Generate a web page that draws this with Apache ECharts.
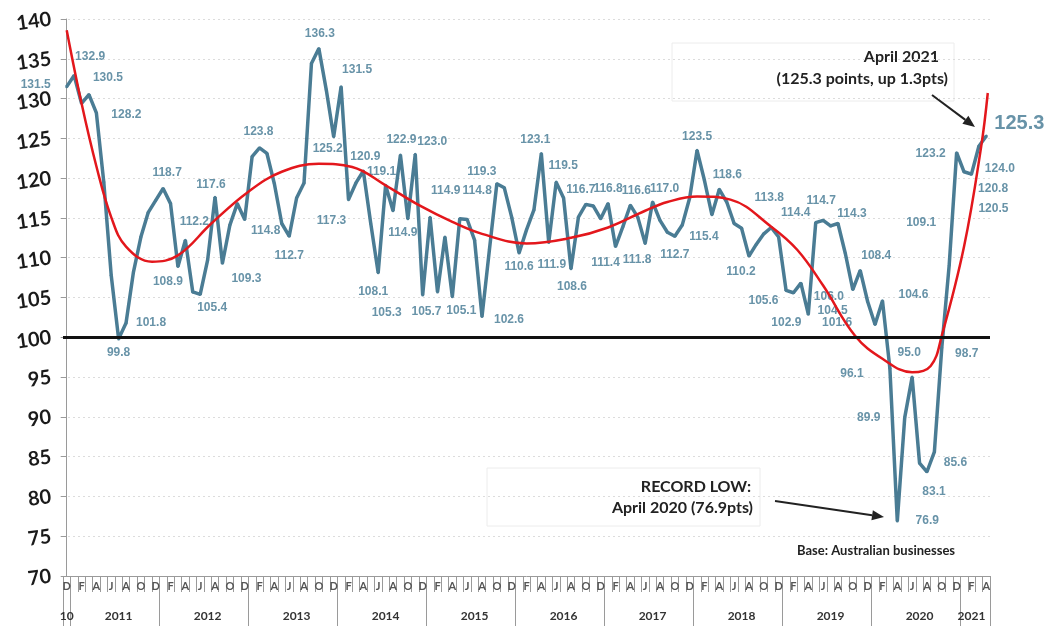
<!DOCTYPE html>
<html>
<head>
<meta charset="utf-8">
<script src="https://cdn.jsdelivr.net/npm/echarts@6/dist/echarts.min.js"></script>
<style>
  html, body { margin: 0; padding: 0; background: #fff; }
  #chart { width: 1054px; height: 626px; }
</style>
</head>
<body>
<div id="chart"></div>
<script>
// month letters shown under the axis, and the year row
const MONTH_LETTERS = ['J', 'F', 'M', 'A', 'M', 'J', 'J', 'A', 'S', 'O', 'N', 'D']
const YEAR_LABELS = { 2010: '10', 2011: '2011', 2012: '2012', 2013: '2013', 2014: '2014', 2015: '2015',
  2016: '2016', 2017: '2017', 2018: '2018', 2019: '2019', 2020: '2020', 2021: '2021' }

// Dec 2010 .. Apr 2021
const months = []
for (let y = 2010; y <= 2021; y++) {
  for (let m = 1; m <= 12; m++) {
    if ((y === 2010 && m < 12) || (y === 2021 && m > 4)) continue
    months.push(y + '-' + String(m).padStart(2, '0'))
  }
}

// business confidence, one value per month
const confidence = [
  131.5,
  132.9, 129.4, 130.5, 128.2, 119.5, 107.8, 99.8, 101.8, 108.2, 112.6, 115.7, 117.2,
  118.7, 116.8, 108.9, 112.2, 105.7, 105.4, 109.7, 117.6, 109.3, 114.1, 116.8, 114.8,
  122.7, 123.8, 123.1, 119.3, 114.3, 112.7, 117.5, 119.4, 134.4, 136.3, 131.1, 125.2,
  131.5, 117.3, 119.4, 120.9, 114.3, 108.1, 119.1, 115.9, 122.9, 114.9, 123.0, 105.3,
  115.1, 105.7, 112.6, 105.1, 114.9, 114.8, 112.2, 102.6, 111.0, 119.3, 118.8, 115.1,
  110.6, 113.5, 116.0, 123.1, 111.9, 119.5, 117.5, 108.6, 115.1, 116.7, 116.5, 114.9,
  116.8, 111.4, 113.9, 116.6, 115.1, 111.8, 117.0, 114.7, 113.2, 112.7, 114.1, 117.5,
  123.5, 119.7, 115.4, 118.6, 117.0, 114.3, 113.7, 110.2, 111.7, 113.0, 113.8, 112.6,
  105.9, 105.6, 106.8, 102.9, 114.4, 114.7, 114.0, 114.3, 110.5, 106.0, 108.4, 104.5,
  101.6, 104.6, 96.1, 76.9, 89.9, 95.0, 84.2, 83.1, 85.6, 98.7, 109.1, 123.2,
  120.8, 120.5, 124.0, 125.3
]

// red trend line (month index, value)
const trendMonth = [0, 2, 4, 6, 8, 11.5, 15, 19.5, 24.5, 29, 34, 38.5, 43, 47.5, 52, 56, 62, 68, 73, 78,
  81, 85, 89.5, 95, 98.5, 102, 106.3, 110, 114, 116.5, 118, 121, 123.3, 124.2]
const trendValue = [138.6, 129.4, 121.5, 115.1, 111.4, 109.5, 110.3, 114.3, 118.3, 120.8, 121.8, 121.4,
  119.1, 116.6, 114.5, 113.0, 111.8, 112.5, 113.8, 115.9, 117.0, 117.7, 117.3, 113.9, 111.0, 106.5,
  100.2, 97.3, 95.6, 96.4, 100.2, 111.4, 123.9, 130.7]

// which points carry a value label, and where the label sits relative to the point
const labelOffsets = {
  0: [-31, -2], 1: [16, -19], 3: [19, -17], 4: [30, 2], 7: [0, 14], 8: [25, 0], 13: [4, -16],
  15: [-10, 15], 16: [9, -19], 18: [12, 13], 20: [-4, -13], 21: [24, 15], 24: [21, 11], 26: [-1, -16],
  30: [0, 19], 34: [1, -15], 36: [-6, 12], 37: [16, -17], 38: [-17, 21], 40: [2, -14], 42: [-5, 19],
  43: [-4, -14], 45: [1, -15], 46: [-5, 14], 47: [17, -13], 48: [-36, 18], 50: [-11, 20], 52: [9, 14],
  53: [-14, -28], 54: [10, -29], 56: [27, 3], 58: [-15, -12], 61: [0, 14], 64: [-6, -14], 65: [3, 22],
  66: [7, -16], 68: [1, 18], 70: [-5, -15], 73: [0, -15], 74: [-10, 16], 76: [6, -15], 78: [-8, 16],
  79: [12, -13], 82: [0, 18], 85: [0, -14], 87: [-8, 22], 88: [8, -15], 92: [-8, 16], 95: [-2, -30],
  98: [-30, 8], 100: [-22, 8], 101: [-20, -10], 102: [-2, -20], 104: [14, -10], 106: [-24, 7],
  107: [16, -15], 108: [-35, 9], 109: [-38, -2], 110: [31, -6], 111: [-38, 5], 112: [30, 0],
  113: [-36, 0], 114: [-3, -24], 116: [7, 20], 117: [21, 11], 118: [25, 6], 119: [-28, -42],
  120: [-26, 1], 121: [29, 17], 122: [22, 35], 123: [21, 22], 124: [33, -12]
}

const BLUE = '#4a7c94'
const LABEL_BLUE = '#6893a8'
const FONT = 'Lato, "Liberation Sans", sans-serif'

const chart = echarts.init(document.getElementById('chart'), null, { renderer: 'canvas' })

const seriesData = confidence.map((v, i) => {
  const off = labelOffsets[i]
  if (!off) return v
  return {
    value: v,
    label: {
      show: true,
      position: 'inside',
      offset: off,
      color: LABEL_BLUE,
      fontFamily: '"Liberation Sans", Arial, sans-serif',
      fontWeight: 'bold',
      fontSize: i === 124 ? 20 : 12,
      formatter: p => p.value.toFixed(1),
    },
  }
})

function arrow(x1, y1, x2, y2) {
  const a = Math.atan2(y2 - y1, x2 - x1)
  const L = 12, W = 5
  const bx = x2 - L * Math.cos(a), by = y2 - L * Math.sin(a)
  return [
    { type: 'line', shape: { x1, y1, x2: bx, y2: by }, style: { stroke: '#222', lineWidth: 2 } },
    { type: 'polygon', shape: { points: [[x2, y2],
      [bx + W * Math.sin(a), by - W * Math.cos(a)],
      [bx - W * Math.sin(a), by + W * Math.cos(a)]] }, style: { fill: '#222' } },
  ]
}

const textStyle = (text, x, y, align, size) => ({
  type: 'text', x, y,
  style: { text, textAlign: align, textVerticalAlign: 'middle', fill: '#222',
    font: 'bold ' + size + 'px ' + FONT },
})

const option = {
  backgroundColor: '#fff',
  animation: false,
  grid: { left: 63, right: 64, top: 19, bottom: 50 },
  xAxis: [
    {
      type: 'category',
      data: months,
      boundaryGap: true,
      axisLine: { lineStyle: { color: '#9a9a9a', width: 1 } },
      axisTick: { show: true, interval: 0, length: 16, lineStyle: { color: '#9a9a9a' } },
      axisLabel: {
        interval: 0,
        margin: 5,
        color: '#555',
        fontFamily: FONT,
        fontWeight: 'bold',
        fontSize: 11,
        formatter: v => {
          const m = +v.slice(5)
          return m % 2 === 0 ? MONTH_LETTERS[m - 1] : ''
        },
      },
      splitLine: { show: false },
    },
    {
      type: 'category',
      data: months,
      boundaryGap: true,
      position: 'bottom',
      axisLine: { show: false },
      axisTick: {
        show: true,
        length: 52,
        lineStyle: { color: '#9a9a9a' },
        interval: (i, v) => +v.slice(5) === 1 || i === 0,
      },
      axisLabel: {
        margin: 34,
        color: '#333',
        fontFamily: FONT,
        fontWeight: 'bold',
        fontSize: 12,
        interval: (i, v) => {
          const y = +v.slice(0, 4), m = +v.slice(5)
          if (y === 2010) return true
          if (y === 2021) return m === 2
          return m === 7
        },
        formatter: v => YEAR_LABELS[+v.slice(0, 4)],
      },
      splitLine: { show: false },
    },
    {
      type: 'value',
      min: -0.5,
      max: confidence.length - 0.5,
      show: false,
    },
  ],
  yAxis: {
    type: 'value',
    min: 70,
    max: 140,
    interval: 5,
    axisLine: { show: true, lineStyle: { color: '#9a9a9a' } },
    axisTick: { show: true, length: 6, lineStyle: { color: '#9a9a9a' } },
    axisLabel: {
      color: '#1a1a1a',
      fontFamily: FONT,
      fontWeight: 'bold',
      fontSize: 20,
      rotate: 8,
      margin: 12,
    },
    splitLine: { lineStyle: { color: '#dcdcdc', type: [2, 3] } },
  },
  series: [
    {
      name: 'Business Confidence',
      type: 'line',
      xAxisIndex: 0,
      data: seriesData,
      symbol: 'circle',
      symbolSize: 3,
      showAllSymbol: true,
      lineStyle: { color: BLUE, width: 3.5 },
      itemStyle: { color: BLUE },
      z: 2,
      markLine: {
        silent: true,
        symbol: 'none',
        label: { show: false },
        lineStyle: { color: '#111', width: 3, type: 'solid' },
        data: [{ yAxis: 100 }],
      },
    },
    {
      name: 'Trend',
      type: 'line',
      xAxisIndex: 2,
      data: trendMonth.map((m, i) => [m, trendValue[i]]),
      smooth: 0.4,
      showSymbol: false,
      lineStyle: { color: '#e3171c', width: 2.5 },
      z: 3,
    },
  ],
  graphic: [
    { type: 'rect', shape: { x: 672, y: 43, width: 282, height: 58 },
      style: { fill: 'none', stroke: '#ececec', lineWidth: 1 } },
    { type: 'rect', shape: { x: 487, y: 468, width: 273, height: 58 },
      style: { fill: 'none', stroke: '#ececec', lineWidth: 1 } },
    textStyle('April 2021', 939, 57, 'right', 16),
    textStyle('(125.3 points, up 1.3pts)', 948, 79, 'right', 16),
    textStyle('RECORD LOW:', 751, 487, 'right', 16),
    textStyle('April 2020 (76.9pts)', 753, 508, 'right', 16),
    textStyle('Base: Australian businesses', 797, 551, 'left', 13),
    ...arrow(932, 95, 975, 127),
    ...arrow(775, 501, 884, 517),
  ],
}

chart.setOption(option)
window.addEventListener('resize', () => chart.resize())
</script>
</body>
</html>
